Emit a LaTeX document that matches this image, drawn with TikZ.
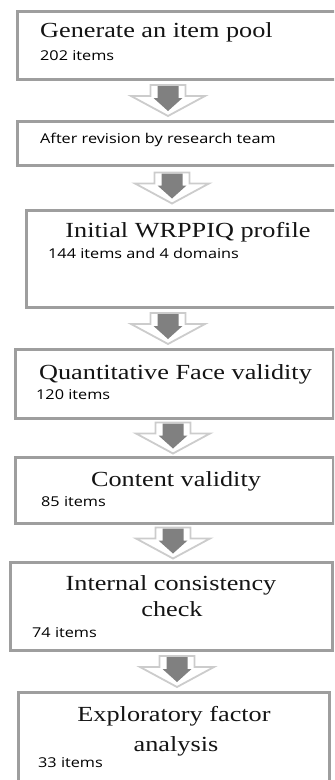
\documentclass[tikz,border=0pt]{standalone}
\usepackage{fontspec}
\newfontfamily\titlefont[FakeStretch=1.22]{Liberation Serif}
\newfontfamily\countfont[FakeStretch=1.2]{Open Sans}
\usetikzlibrary{calc}
\tikzset{
  flowarrow/.pic={
    \filldraw[draw=black!20, fill=white, line width=1.8bp]
      (-17.5,-15) -- (17.5,-15) -- (17.5,-4) -- (37,-4) -- (0,16) -- (-37,-4) -- (-17.5,-4) -- cycle;
    \fill[black!50]
      (-10.5,-14) -- (10.5,-14) -- (10.5,-2) -- (14.5,-2) -- (0,11) -- (-14.5,-2) -- (-10.5,-2) -- cycle;
  }
}
\begin{document}
\begin{tikzpicture}[x=1bp, y=-1bp,
    stage/.style={draw=black!38, line width=3bp, fill=white, inner sep=0pt},
    heading/.style={font=\titlefont\fontsize{21.6}{25}\selectfont, text=black!92, inner sep=0pt, anchor=base},
    count/.style={font=\countfont\fontsize{13.6}{15}\selectfont, inner sep=0pt, anchor=base west}]
    \useasboundingbox (0,0) rectangle (334,780);
    \clip (0,0) rectangle (334,780);
    \node[stage, minimum width=327bp, minimum height=67bp] (box1) at (181.5,45.5) {};
    \node[stage, minimum width=327bp, minimum height=44bp] (box2) at (181.5,143) {};
    \node[stage, minimum width=318bp, minimum height=97bp] (box3) at (186,258.5) {};
    \node[stage, minimum width=317bp, minimum height=69bp] (box4) at (174.5,383.5) {};
    \node[stage, minimum width=317bp, minimum height=66bp] (box5) at (174.5,490) {};
    \node[stage, minimum width=321bp, minimum height=88bp] (box6) at (171.5,606) {};
    \node[stage, minimum width=310bp, minimum height=108bp] (box7) at (174,746) {};
    % stage texts
    \node[heading, anchor=base west] (title1) at (40,38) {Generate an item pool};
    \node[count] (count1) at (40,60.5) {202 items};
    \node[count] (note2) at (40,143) {After revision by research team};
    \node[heading] (title3) at (188,237.5) {Initial WRPPIQ profile};
    \node[count] (count3) at (48,258) {144 items and 4 domains};
    \node[heading] (title4) at (175.5,379) {Quantitative Face validity};
    \node[count] (count4) at (36,399) {120 items};
    \node[heading] (title5) at (176,486) {Content validity};
    \node[count] (count5) at (41,506) {85 items};
    \node[heading] (title6a) at (171,590.5) {Internal consistency};
    \node[heading] (title6b) at (172,616) {check};
    \node[count] (count6) at (32,637.5) {74 items};
    \node[heading] (title7a) at (174,721.5) {Exploratory factor};
    \node[heading] (title7b) at (176,751) {analysis};
    \node[count] (count7) at (38,767) {33 items};
    % arrows between stages
    \pic at ($(168,0 |- box1.south)!0.5!(168,0 |- box2.north)$) {flowarrow};
    \pic at ($(172,0 |- box2.south)!0.5!(172,0 |- box3.north)$) {flowarrow};
    \pic at ($(168,0 |- box3.south)!0.5!(168,0 |- box4.north)$) {flowarrow};
    \pic at ($(173,0 |- box4.south)!0.5!(173,0 |- box5.north)$) {flowarrow};
    \pic at ($(173,0 |- box5.south)!0.5!(173,0 |- box6.north)$) {flowarrow};
    \pic at ($(177,0 |- box6.south)!0.5!(177,0 |- box7.north)$) {flowarrow};
\end{tikzpicture}
\end{document}
